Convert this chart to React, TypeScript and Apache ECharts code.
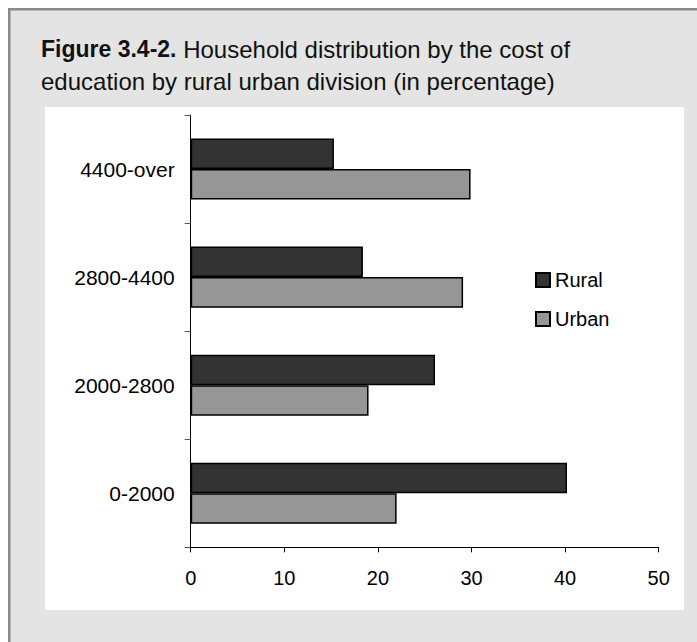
import React, { useEffect, useRef } from "react";
import * as echarts from "echarts";

const categories = ["0-2000", "2000-2800", "2800-4400", "4400-over"];
const ruralValues = [40.2, 26.1, 18.4, 15.3];
const urbanValues = [22.0, 19.0, 29.1, 29.9];
const xTicks = { min: 0, max: 50, interval: 10 };

const FONT = "'Liberation Sans', Arial, sans-serif";

export default function App() {
  const ref = useRef<HTMLDivElement>(null);
  useEffect(() => {
    if (!ref.current) return;
    const chart = echarts.init(ref.current, undefined, { renderer: "svg" });
    chart.setOption({
      animation: false,
      textStyle: { fontFamily: FONT },
      graphic: [
        { type: "rect", z: -100, silent: true, shape: { x: 8, y: 8, width: 689, height: 634 }, style: { fill: "#e4e4e4" } },
        { type: "rect", z: -99, silent: true, shape: { x: 8, y: 8, width: 689, height: 2.5 }, style: { fill: "#8a8a8a" } },
        { type: "rect", z: -99, silent: true, shape: { x: 8, y: 8, width: 2.5, height: 634 }, style: { fill: "#8a8a8a" } },
        { type: "rect", z: -98, silent: true, shape: { x: 45, y: 107, width: 639, height: 503 }, style: { fill: "#ffffff" } },
      ],
      title: {
        text: "{b|Figure 3.4-2.} Household distribution by the cost of\neducation by rural urban division (in percentage)",
        left: 41,
        top: 33,
        padding: 0,
        textStyle: {
          fontFamily: FONT,
          fontSize: 24,
          fontWeight: "normal",
          color: "#111",
          lineHeight: 32,
          rich: {
            b: { fontFamily: FONT, fontSize: 23, fontWeight: "bold", color: "#111", lineHeight: 32 },
          },
        },
      },
      legend: {
        data: ["Rural", "Urban"],
        orient: "vertical",
        left: 530,
        top: 265,
        itemWidth: 14,
        itemHeight: 14,
        itemGap: 19,
        icon: "rect",
        textStyle: { fontFamily: FONT, fontSize: 20, color: "#000", lineHeight: 20 },
      },
      grid: { left: 190.7, right: 38.3, top: 115, bottom: 94.7, containLabel: false },
      xAxis: {
        type: "value",
        min: xTicks.min,
        max: xTicks.max,
        interval: xTicks.interval,
        axisLine: { show: true, lineStyle: { color: "#000", width: 1 } },
        axisTick: { show: true, length: 5, lineStyle: { color: "#000" } },
        splitLine: { show: false },
        axisLabel: { fontFamily: FONT, fontSize: 20, color: "#000", margin: 21 },
      },
      yAxis: {
        type: "category",
        data: categories,
        axisLine: { show: true, lineStyle: { color: "#000", width: 1 } },
        axisTick: { show: true, length: 6, alignWithLabel: false, lineStyle: { color: "#555" } },
        axisLabel: { fontFamily: FONT, fontSize: 21, color: "#000", margin: 16 },
      },
      series: [
        {
          name: "Rural",
          type: "bar",
          data: ruralValues,
          barGap: "0%",
          barCategoryGap: "43.5%",
          itemStyle: { color: "#333333", borderColor: "#000", borderWidth: 1.5 },
        },
        {
          name: "Urban",
          type: "bar",
          data: urbanValues,
          barGap: "0%",
          barCategoryGap: "43.5%",
          itemStyle: { color: "#969696", borderColor: "#000", borderWidth: 1.5 },
        },
      ],
    });
    return () => chart.dispose();
  }, []);
  return (
    <div
      ref={ref}
      style={{ position: "fixed", left: 0, top: 0, width: 697, height: 642, background: "#fff" }}
    />
  );
}
